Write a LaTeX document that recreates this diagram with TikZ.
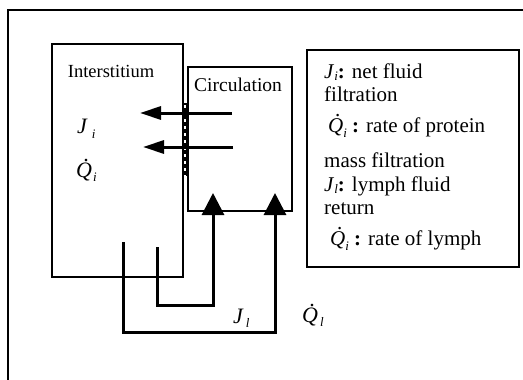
\documentclass[tikz,border=0pt]{standalone}
\usepackage{fontspec}
\setmainfont{Liberation Serif}
\usetikzlibrary{arrows.meta}
\newcommand{\lowsub}[2]{\raisebox{-#1}{\fontsize{13}{13}\selectfont\itshape #2}}
\newcommand{\Qdot}{\rlap{\kern0.33em\raisebox{0.72em}{.}}\textit{Q}}
\begin{document}
\begin{tikzpicture}[x=1pt,y=-1pt,
  box/.style={draw, line width=1.4pt, inner sep=0pt},
  hflow/.style={line width=3pt, -{Triangle[length=21pt,width=13pt]}},
  vflow/.style={line width=3pt, -{Triangle[length=22pt,width=22pt]}},
  lab/.style={anchor=base west, inner sep=0pt},
  bigtxt/.style={font=\fontsize{18.5}{20}\selectfont},
  legtxt/.style={lab, font=\fontsize{21}{24}\selectfont},
  symtxt/.style={lab, font=\fontsize{22}{24}\selectfont}]
\useasboundingbox (0,0) rectangle (523,380);
% outer frame (only left and top edges visible)
\coordinate (fA) at (8,380);
\coordinate (fB) at (8,10);
\coordinate (fC) at (523,10);
\draw[line width=1.6pt] (fA) -- (fB) -- (fC);
% boxes
\node[box, minimum width=131pt, minimum height=233pt] (inter) at (117.5,160.5) {};
\node[box, minimum width=104pt, minimum height=144pt] (circ) at (240,139) {};
\node[box, minimum width=212pt, minimum height=217pt] (legend) at (413,158.5) {};
% membrane
\coordinate (m1) at (185,103);
\coordinate (m2) at (185,176);
\draw[line width=5pt] (m1) -- (m2);
\draw[white, line width=2.2pt, dash pattern=on 3pt off 4pt, dash phase=-2pt] (m1) -- (m2);
% filtration arrows
\coordinate (a1s) at (232,113);
\coordinate (a1e) at (140,113);
\coordinate (a2s) at (233,147);
\coordinate (a2e) at (143,147);
\draw[hflow] (a1s) -- (a1e);
\draw[hflow] (a2s) -- (a2e);
% lymph return
\coordinate (l1s) at (157,247);
\coordinate (l1b) at (157,305);
\coordinate (l1e) at (213,193);
\draw[vflow] (l1s) -- (l1b) -| (l1e);
\coordinate (l2s) at (123,242);
\coordinate (l2b) at (123,332);
\coordinate (l2e) at (275,193);
\draw[vflow] (l2s) -- (l2b) -| (l2e);
% texts
\node[anchor=base, inner sep=0pt, bigtxt] (tInter) at (111,77) {Interstitium};
\node[lab, font=\fontsize{19.5}{21}\selectfont] (tCirc) at (194,91) {Circulation};
\node[symtxt] (Ji) at (77,133) {\textit{J}\kern4pt\lowsub{5pt}{i}};
\node[symtxt] (Qi) at (76,177) {\Qdot\kern1pt\lowsub{4pt}{i}};
\node[symtxt] (Jl) at (233,323) {\textit{J}\kern2pt\lowsub{4pt}{l}};
\node[symtxt] (Ql) at (302,322) {\Qdot\kern2pt\lowsub{4pt}{l}};
% legend
\node[legtxt] (g1) at (324,78) {\textit{J}\lowsub{2pt}{i}\textbf{:} net fluid};
\node[legtxt] (g2) at (324,101) {filtration};
\node[legtxt] (g3) at (328,132) {\Qdot\lowsub{5pt}{i} \textbf{:} rate of protein};
\node[legtxt] (g4) at (324,167) {mass filtration};
\node[legtxt] (g5) at (324,191) {\textit{J}\lowsub{2pt}{l}\textbf{:} lymph fluid};
\node[legtxt] (g6) at (324,214) {return};
\node[legtxt] (g7) at (330,245) {\Qdot\lowsub{5pt}{i} \textbf{:} rate of lymph};
\end{tikzpicture}
\end{document}
